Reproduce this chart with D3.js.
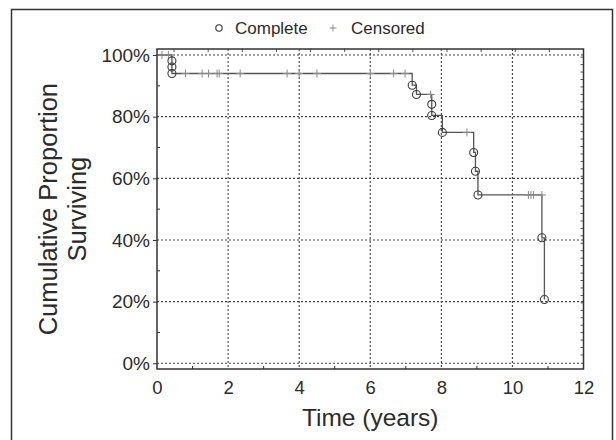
<!DOCTYPE html>
<html>
<head>
  <meta charset="utf-8">
  <script src="https://cdn.jsdelivr.net/npm/d3@7"></script>
  <style>
    body { margin: 0; background: #fff; }
    text { font-family: "Liberation Sans", Arial, sans-serif; fill: #2b2b2b; }
  </style>
</head>
<body>
<script>
  "use strict";

  // Kaplan-Meier events (time in years, cumulative proportion surviving)
  var eventTimes = [0.42, 0.42, 0.42, 7.18, 7.30, 7.73, 7.73, 8.03, 8.91, 8.96, 9.03, 10.83, 10.90];
  var eventSurv  = [0.981, 0.961, 0.940, 0.902, 0.872, 0.840, 0.804, 0.749, 0.684, 0.623, 0.546, 0.407, 0.207];

  // censored observations
  var censorTimes = [0.14, 0.32, 0.80, 1.27, 1.45, 1.69, 1.75, 2.34, 3.66, 4.00, 4.50, 6.00, 6.66, 6.98,
                     7.70, 8.72, 10.45, 10.52, 10.59, 10.83];
  var censorSurv  = [1.0, 1.0, 0.940, 0.940, 0.940, 0.940, 0.940, 0.940, 0.940, 0.940, 0.940, 0.940, 0.940, 0.940,
                     0.872, 0.749, 0.546, 0.546, 0.546, 0.546];

  var xTicks = [0, 2, 4, 6, 8, 10, 12];
  var yTicks = [0, 0.2, 0.4, 0.6, 0.8, 1.0];
  var legendLabels = ["Complete", "Censored"];

  var width = 616, height = 440;
  var svg = d3.select("body").append("svg")
      .attr("width", width)
      .attr("height", height);

  // outer frame
  svg.append("rect")
      .attr("x", 11.5).attr("y", 9.5)
      .attr("width", 601).attr("height", 440)
      .attr("fill", "none").attr("stroke", "#333").attr("stroke-width", 1.5);

  var x = d3.scaleLinear().domain([0, 12]).range([157, 583.5]);
  var y = d3.scaleLinear().domain([-0.0185, 1.0195]).range([369, 49]);

  var g = svg.append("g");

  // grid
  g.selectAll(".vgrid")
      .data(xTicks.filter(function (d) { return d > 0 && d < 12; }))
    .enter().append("line")
      .attr("x1", function (d) { return x(d); })
      .attr("x2", function (d) { return x(d); })
      .attr("y1", y.range()[1]).attr("y2", y.range()[0])
      .attr("stroke", "#444").attr("stroke-width", 1.1)
      .attr("stroke-dasharray", "2,2");

  g.selectAll(".hgrid")
      .data(yTicks)
    .enter().append("line")
      .attr("x1", x(0)).attr("x2", x(12))
      .attr("y1", function (d) { return y(d); })
      .attr("y2", function (d) { return y(d); })
      .attr("stroke", "#444").attr("stroke-width", 1.1)
      .attr("stroke-dasharray", "2,2");

  // axes
  var xAxis = d3.axisBottom(x).tickValues(xTicks).tickSize(0).tickPadding(12);
  g.append("g")
      .attr("transform", "translate(0," + y.range()[0] + ")")
      .call(xAxis)
      .call(function (a) {
        a.select(".domain").remove();
        a.selectAll("text").style("font-size", "18.5px").attr("fill", "#2b2b2b");
      });

  var yAxis = d3.axisLeft(y).tickValues(yTicks).tickSize(4).tickPadding(3)
      .tickFormat(d3.format(".0%"));
  g.append("g")
      .attr("transform", "translate(" + x(0) + ",0)")
      .call(yAxis)
      .call(function (a) {
        a.select(".domain").remove();
        a.selectAll("line").attr("stroke", "#333");
        a.selectAll("text").style("font-size", "19px").attr("fill", "#2b2b2b");
      });

  // minor ticks (inward)
  var minorX = d3.range(1, 12, 2);
  g.selectAll(".mx").data(minorX).enter().append("line")
      .attr("x1", function (d) { return x(d); }).attr("x2", function (d) { return x(d); })
      .attr("y1", y.range()[0]).attr("y2", y.range()[0] - 3)
      .attr("stroke", "#333");
  var minorY = d3.range(0.1, 1.0, 0.2);
  g.selectAll(".my").data(minorY).enter().append("line")
      .attr("x1", x(0)).attr("x2", x(0) + 3)
      .attr("y1", function (d) { return y(d); }).attr("y2", function (d) { return y(d); })
      .attr("stroke", "#333");
  var topTicks = d3.range(0.48, 12, 0.96);
  g.selectAll(".tt").data(topTicks).enter().append("line")
      .attr("x1", function (d) { return x(d); }).attr("x2", function (d) { return x(d); })
      .attr("y1", y.range()[1]).attr("y2", y.range()[1] + 3)
      .attr("stroke", "#555");
  var rightTicks = d3.range(0.027, 1.015, 0.02415);
  g.selectAll(".rt").data(rightTicks).enter().append("line")
      .attr("x1", x(12)).attr("x2", x(12) - 3)
      .attr("y1", function (d) { return y(d); }).attr("y2", function (d) { return y(d); })
      .attr("stroke", "#555");

  // plot frame
  g.append("rect")
      .attr("x", x(0)).attr("y", y.range()[1])
      .attr("width", x(12) - x(0)).attr("height", y.range()[0] - y.range()[1])
      .attr("fill", "none").attr("stroke", "#333").attr("stroke-width", 1.5);

  // survival step line
  var pts = [[0, 1]];
  eventTimes.forEach(function (t, i) { pts.push([t, eventSurv[i]]); });
  var line = d3.line()
      .x(function (d) { return x(d[0]); })
      .y(function (d) { return y(d[1]); })
      .curve(d3.curveStepAfter);
  g.append("path")
      .datum(pts)
      .attr("d", line)
      .attr("fill", "none").attr("stroke", "#555").attr("stroke-width", 1.3);

  // censored marks
  function cross(sel, cx, cy, s) {
    sel.append("path")
      .attr("d", "M" + (cx - s) + "," + cy + "H" + (cx + s) + "M" + cx + "," + (cy - s) + "V" + (cy + s))
      .attr("stroke", "#8a8a8a").attr("stroke-width", 1).attr("fill", "none");
  }
  censorTimes.forEach(function (t, i) { cross(g, x(t), y(censorSurv[i]), 4); });

  // complete (event) marks
  g.selectAll(".ev").data(eventTimes).enter().append("circle")
      .attr("cx", function (d) { return x(d); })
      .attr("cy", function (d, i) { return y(eventSurv[i]); })
      .attr("r", 4)
      .attr("fill", "none").attr("stroke", "#3a3a3a").attr("stroke-width", 1.1);

  // legend
  var lg = svg.append("g");
  lg.append("circle").attr("cx", 219).attr("cy", 28).attr("r", 3.2)
      .attr("fill", "none").attr("stroke", "#333").attr("stroke-width", 1.1);
  lg.append("text").attr("x", 235).attr("y", 33.5).style("font-size", "17px").text(legendLabels[0]);
  cross(lg, 333, 28, 3.5);
  lg.append("text").attr("x", 351).attr("y", 33.5).style("font-size", "17px").text(legendLabels[1]);

  // axis titles
  svg.append("text")
      .attr("x", (x(0) + x(12)) / 2).attr("y", 426)
      .attr("text-anchor", "middle")
      .style("font-size", "24.5px")
      .text("Time (years)");

  var yt = svg.append("text")
      .attr("transform", "translate(0," + y(0.5) + ") rotate(-90)")
      .attr("text-anchor", "middle")
      .style("font-size", "25.5px");
  yt.append("tspan").attr("x", 0).attr("y", 57).text("Cumulative Proportion");
  yt.append("tspan").attr("x", 0).attr("y", 86).text("Surviving");
</script>
</body>
</html>
